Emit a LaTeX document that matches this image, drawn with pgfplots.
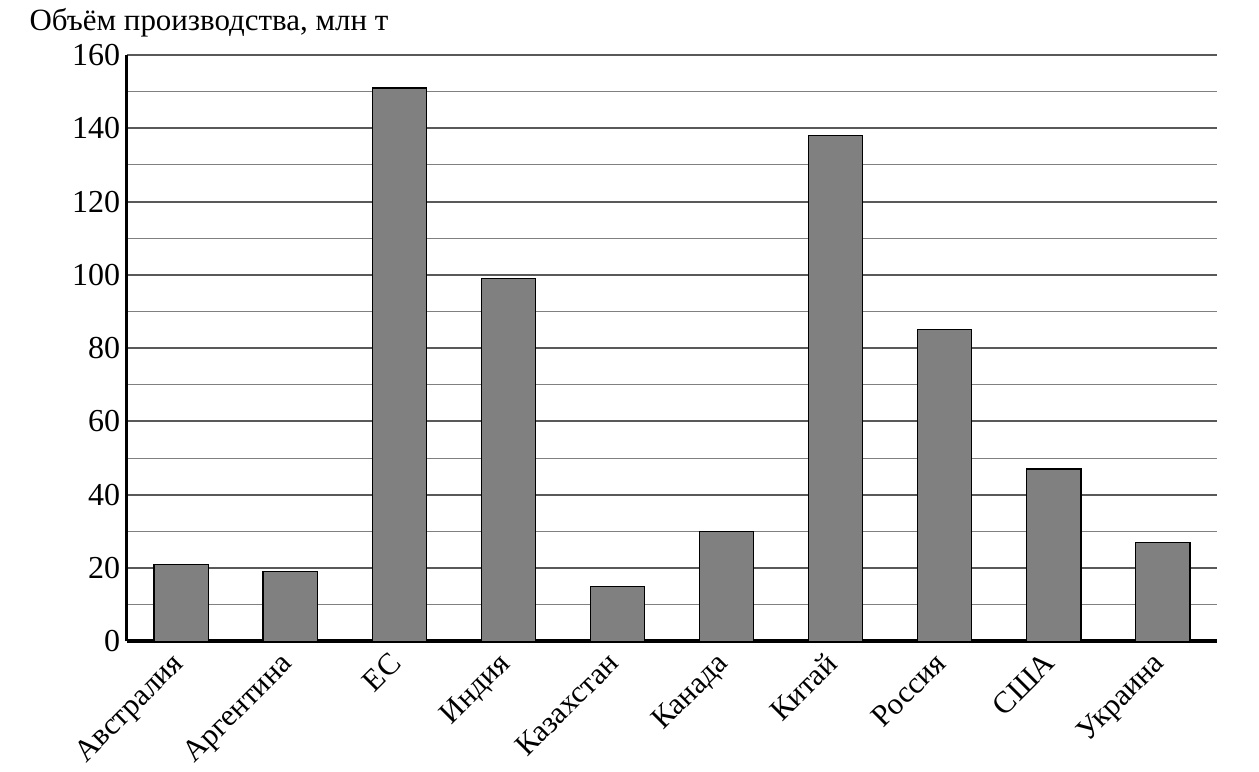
\documentclass[border=0pt]{standalone}
\usepackage{pgfplots}
\pgfplotsset{compat=1.18}
\usepackage{fontspec}
\setmainfont{Liberation Serif}
\begin{document}
\begin{tikzpicture}
\path[use as bounding box] (-47.6pt,-49pt) rectangle (424.7pt,240.6pt);
\begin{axis}[
    at={(0,0)}, anchor=south west,
    scale only axis,
    width=409pt, height=220pt,
    ymin=0, ymax=160,
    xmin=-0.5, xmax=9.5,
    ytick={0,20,...,160},
    minor ytick={10,30,...,150},
    xtick={0,...,9},
    xticklabels={Австралия,Аргентина,ЕС,Индия,Казахстан,Канада,Китай,Россия,США,Украина},
    xticklabel style={rotate=45, anchor=north east, xshift=1pt, yshift=7pt,
        font=\fontsize{11.5}{13}\selectfont},
    yticklabel style={xshift=1pt},
    /pgf/number format/assume math mode=true,
    font=\fontsize{12}{14}\selectfont,
    tick style={draw=none},
    ymajorgrids, yminorgrids,
    major grid style={draw=black!65, line width=0.75pt},
    minor grid style={draw=black!50, line width=0.4pt},
    axis x line*=bottom, axis y line*=left,
    axis line style={-, line width=1.2pt},
    x axis line style={line width=1.5pt},
    ybar, bar width=0.5,
    clip=false,
]
\addplot[fill=black!50, draw=black, line width=0.5pt] coordinates {
    (0,21) (1,19) (2,151) (3,99) (4,15) (5,30) (6,138) (7,85) (8,47) (9,27)
};
\node[anchor=base west, font=\fontsize{11.6}{14}\selectfont] at ([xshift=-40pt, yshift=9.3pt]rel axis cs:0,1) {Объём производства, млн т};
\end{axis}
\end{tikzpicture}
\end{document}
